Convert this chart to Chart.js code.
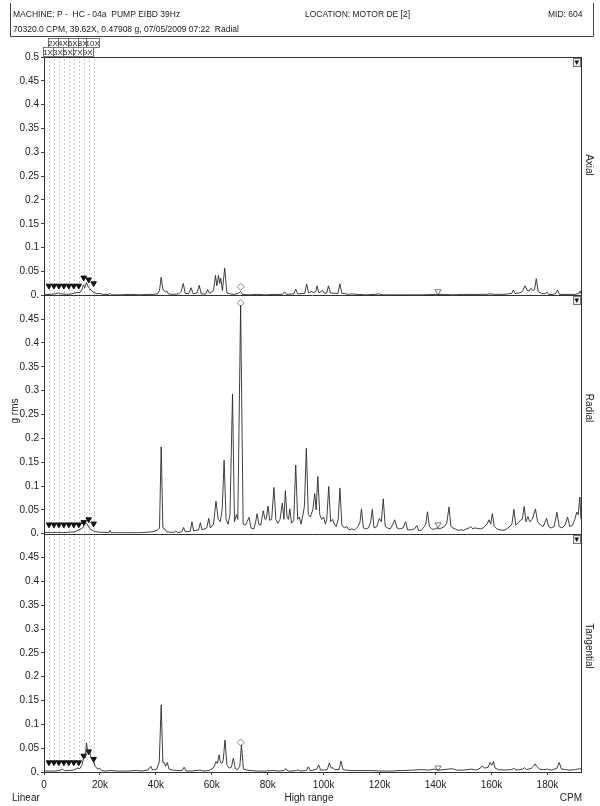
<!DOCTYPE html>
<html>
<head>
<meta charset="utf-8">
<script src="https://cdn.jsdelivr.net/npm/chart.js@4.4.1/dist/chart.umd.min.js"></script>
<style>
  html, body { margin: 0; padding: 0; background: #fff; }
  #wrap { position: relative; width: 600px; height: 806px; }
</style>
</head>
<body>
<div id="wrap"><canvas id="spectrum" width="600" height="806"></canvas></div>
<script>
// --- dados (x em kCPM, y em g rms) ---
const oneX = 1774.9; // 1X em CPM (70320 CPM = 39.62X)
const harmonics = [1, 2, 3, 4, 5, 6, 7, 8, 9, 10];
const harmLabels = ['1X', '2X', '3X', '4X', '5X', '6X', '7X', '8X', '9X', '10X'];
const xTicks = [0, 20000, 40000, 60000, 80000, 100000, 120000, 140000, 160000, 180000];
const xTickLabels = ['0', '20k', '40k', '60k', '80k', '100k', '120k', '140k', '160k', '180k'];
const yTicks = [0, 0.05, 0.1, 0.15, 0.2, 0.25, 0.3, 0.35, 0.4, 0.45, 0.5];
const panelNames = ['Axial', 'Radial', 'Tangential'];

const axial = [
  [0,0.001],[2,0.002],[4,0.003],[5.1,0.005],[6,0.003],[8,0.002],[10,0.003],[11.7,0.006],[12.8,0.006],
  [13.6,0.012],[14.1,0.022],[14.6,0.016],[15.2,0.027],[15.8,0.018],[16.4,0.014],[17.2,0.008],[18.2,0.005],
  [19,0.003],[20,0.004],[21,0.002],[23,0.002],[23.6,0.004],[24.2,0.001],[27,0.001],[31,0.002],[34,0.001],
  [37,0.002],[39,0.002],[40.5,0.003],[41.3,0.01],[41.9,0.038],[42.5,0.012],[43,0.01],[43.4,0.007],[43.9,0.009],
  [44.5,0.003],[46,0.002],[48.2,0.003],[49,0.008],[49.8,0.025],[50.5,0.004],[51.8,0.004],[52.6,0.016],[53.3,0.003],
  [54.7,0.005],[55.5,0.021],[56.2,0.003],[57.8,0.003],[58.5,0.012],[59.2,0.004],[60.6,0.01],[61.3,0.042],
  [61.8,0.02],[62.4,0.042],[62.8,0.025],[63.2,0.036],[63.8,0.01],[64.6,0.057],[65.4,0.005],[66.5,0.003],
  [68,0.002],[69.5,0.004],[70.3,0.008],[71,0.002],[73,0.001],[76,0.002],[79,0.001],[82,0.002],[85.2,0.002],
  [86,0.007],[86.7,0.002],[89.3,0.003],[90,0.013],[90.7,0.003],[93.2,0.004],[93.9,0.024],[94.6,0.005],
  [95.7,0.008],[96.4,0.006],[97.2,0.008],[97.6,0.02],[98.3,0.005],[99,0.008],[99.6,0.01],[100.3,0.004],
  [101.1,0.005],[101.7,0.02],[102.4,0.005],[105.1,0.004],[105.8,0.024],[106.5,0.004],[107.5,0.004],
  [108.5,0.002],[110,0.003],[112,0.002],[115,0.001],[118,0.002],[120,0.003],[121,0.001],[125,0.001],
  [130,0.001],[135,0.001],[140,0.002],[143,0.002],[146,0.001],[150,0.002],[154,0.002],[158,0.002],
  [159.6,0.003],[161,0.002],[164,0.002],[166,0.003],[167.2,0.004],[167.8,0.011],[168.4,0.004],[170,0.005],
  [171,0.008],[172,0.02],[172.8,0.01],[173.5,0.009],[174.1,0.015],[174.8,0.01],[175.4,0.012],[176,0.035],
  [176.7,0.008],[177.8,0.004],[179.2,0.003],[179.8,0.007],[180.4,0.002],[182,0.002],[183,0.004],[183.6,0.011],
  [184.3,0.002],[187,0.002],[190,0.002],[191.2,0.004],[191.7,0.009],[192,0.003]
];

const radial = [
  [0,0.002],[1.8,0.003],[3,0.002],[5,0.003],[7,0.002],[9,0.003],[11,0.004],[12.5,0.008],[13.8,0.012],
  [14.6,0.02],[15.2,0.022],[15.8,0.016],[16.5,0.01],[17.5,0.006],[18.5,0.004],[20,0.003],[21.5,0.003],
  [23.2,0.002],[23.6,0.007],[24,0.002],[26,0.002],[30,0.002],[34,0.002],[37,0.003],[39,0.004],[40.5,0.007],
  [41.3,0.012],[41.9,0.182],[42.5,0.012],[43.2,0.01],[43.8,0.004],[45,0.003],[46.6,0.003],[47.2,0.006],
  [47.8,0.002],[49.3,0.004],[49.9,0.013],[50.5,0.004],[52.3,0.005],[52.9,0.025],[53.5,0.006],[55.3,0.008],
  [55.9,0.023],[56.5,0.008],[58.2,0.012],[58.9,0.032],[59.5,0.012],[60.6,0.02],[61.5,0.068],[62.3,0.03],
  [63,0.025],[63.7,0.05],[64.4,0.154],[65.1,0.03],[65.8,0.02],[66.5,0.04],[67.4,0.293],[68.1,0.025],
  [68.8,0.04],[69.3,0.03],[70.3,0.479],[71.2,0.02],[72,0.018],[72.6,0.025],[73.3,0.034],[74,0.012],
  [75,0.01],[75.6,0.022],[76.2,0.042],[76.8,0.02],[77.5,0.018],[78.4,0.048],[79,0.03],[79.5,0.032],
  [80.1,0.058],[80.7,0.028],[81.4,0.03],[82.2,0.097],[82.9,0.03],[83.6,0.022],[84.4,0.03],[85.2,0.064],
  [85.8,0.03],[86.3,0.09],[86.9,0.035],[87.4,0.03],[87.9,0.052],[88.5,0.022],[89.3,0.028],[90,0.144],
  [90.7,0.03],[91.3,0.035],[91.9,0.02],[92.6,0.04],[93.1,0.057],[93.8,0.179],[94.5,0.04],[95.2,0.035],
  [96.1,0.05],[96.8,0.084],[97.3,0.05],[97.9,0.12],[98.6,0.04],[99.3,0.03],[100,0.035],[100.6,0.02],
  [101.1,0.03],[101.8,0.099],[102.5,0.025],[103.2,0.03],[103.8,0.02],[104.5,0.015],[105.2,0.03],[105.8,0.096],
  [106.5,0.018],[107.4,0.012],[108.3,0.015],[109,0.008],[110,0.01],[111,0.008],[112.3,0.015],[113,0.025],
  [113.5,0.052],[114.2,0.012],[115,0.01],[116,0.012],[116.8,0.025],[117.4,0.051],[118,0.012],[119,0.015],
  [119.9,0.032],[120.6,0.025],[121.3,0.073],[122,0.015],[122.8,0.012],[123.8,0.01],[124.6,0.018],[125.4,0.029],
  [126.2,0.012],[127.2,0.01],[128.4,0.012],[129.3,0.025],[130,0.008],[131.2,0.008],[132.5,0.01],[133.3,0.017],
  [134,0.006],[135,0.008],[136,0.015],[136.5,0.02],[137.1,0.046],[137.8,0.015],[138.6,0.01],[139.5,0.009],
  [140.5,0.012],[141.2,0.01],[142.2,0.012],[143.2,0.015],[144,0.022],[144.8,0.056],[145.5,0.015],[146.2,0.012],
  [147,0.01],[148,0.007],[149,0.008],[150,0.007],[151,0.01],[152,0.012],[152.6,0.015],[153.3,0.01],
  [154,0.012],[155,0.011],[156,0.01],[157,0.012],[158.4,0.02],[159.1,0.029],[159.7,0.02],[160.3,0.042],
  [161,0.015],[162,0.01],[163,0.008],[164.5,0.007],[165.5,0.01],[166.5,0.015],[167.3,0.02],[168,0.051],
  [168.7,0.018],[169.5,0.022],[170.3,0.028],[171,0.03],[171.7,0.057],[172.3,0.025],[173,0.036],[173.7,0.025],
  [174.6,0.03],[175.7,0.052],[176.5,0.025],[177.5,0.018],[178.5,0.015],[179.7,0.032],[180.4,0.015],
  [181.3,0.012],[182.4,0.015],[183.4,0.045],[184.2,0.015],[185.2,0.012],[186.3,0.018],[187.2,0.035],
  [188,0.015],[189,0.018],[189.8,0.03],[190.5,0.045],[191,0.04],[191.6,0.077],[192,0.03]
];

const tangential = [
  [0,0.002],[2,0.002],[4,0.002],[5.5,0.003],[6.6,0.006],[7.3,0.003],[9,0.003],[10.5,0.004],[12,0.008],
  [12.8,0.007],[13.6,0.015],[14.4,0.036],[14.8,0.03],[15.2,0.061],[15.7,0.04],[16.2,0.046],[16.8,0.03],
  [17.6,0.025],[18.3,0.012],[19.2,0.006],[19.9,0.008],[20.6,0.003],[22,0.002],[24,0.003],[26,0.002],
  [30,0.002],[33,0.003],[35,0.002],[37.2,0.004],[38.2,0.012],[38.8,0.004],[40.3,0.006],[41.2,0.02],
  [41.9,0.141],[42.5,0.02],[43,0.02],[43.5,0.012],[44.1,0.02],[44.7,0.006],[46,0.004],[48,0.003],
  [49.4,0.003],[50.1,0.01],[50.8,0.002],[53,0.002],[55.8,0.004],[57,0.002],[59,0.003],[60.8,0.01],
  [61.5,0.022],[62,0.018],[62.6,0.036],[63.1,0.02],[63.6,0.018],[64.1,0.025],[64.7,0.067],[65.4,0.015],
  [66.2,0.008],[67,0.01],[67.7,0.029],[68.4,0.007],[69.2,0.005],[70,0.012],[70.6,0.057],[71.3,0.006],
  [72.5,0.004],[74,0.003],[76,0.002],[79,0.002],[82,0.003],[84,0.002],[85.8,0.003],[86.5,0.007],
  [87.2,0.002],[89,0.002],[90.2,0.003],[90.8,0.005],[91.5,0.002],[93.8,0.003],[94.5,0.011],[95.2,0.003],
  [96.5,0.004],[97.5,0.006],[98.2,0.015],[98.9,0.004],[100,0.004],[101.3,0.005],[102,0.019],[102.7,0.008],
  [103.3,0.009],[104,0.005],[105.5,0.005],[106.2,0.023],[106.9,0.005],[108,0.004],[110,0.003],[113,0.003],
  [117,0.003],[120,0.002],[124,0.002],[128,0.003],[132,0.004],[135,0.005],[137.5,0.004],[139.5,0.006],
  [141,0.004],[143,0.005],[146,0.007],[147.5,0.004],[150,0.004],[152.9,0.006],[154.5,0.004],[156,0.008],
  [156.7,0.013],[157.5,0.008],[158.8,0.01],[159.5,0.02],[160.1,0.014],[160.7,0.022],[161.3,0.008],
  [162.5,0.005],[164.5,0.004],[166.5,0.005],[167.3,0.005],[168,0.008],[168.7,0.004],[170,0.005],
  [171.2,0.006],[171.8,0.009],[172.6,0.005],[174.3,0.008],[175,0.012],[175.6,0.017],[176.3,0.011],
  [177.2,0.006],[178.5,0.005],[180,0.006],[181.5,0.004],[183.4,0.008],[184.2,0.02],[185,0.006],
  [186.5,0.005],[188,0.004],[190,0.005],[191.5,0.007],[192,0.006]
];

// marcadores de harmônicas (1X..10X), em g rms
const axialMarks = [0.02, 0.02, 0.02, 0.02, 0.02, 0.02, 0.02, 0.037, 0.033, 0.025];
const radialMarks = [0.019, 0.019, 0.019, 0.019, 0.019, 0.019, 0.019, 0.024, 0.03, 0.021];
const tangMarks = [0.02, 0.02, 0.02, 0.02, 0.02, 0.02, 0.02, 0.034, 0.043, 0.027];

// cursor de pico (70320 CPM) e marcador de referência (~140.9k CPM)
const peakCpm = 70320;
const peakMarks = [0.018, 0.484, 0.062];
const refCpm = 140900;
const refMarks = [0.008, 0.019, 0.009];

const FONT = 'Liberation Sans, Arial, Helvetica, sans-serif';
const INK = '#222';

const toPoints = (arr) => arr.map(p => ({ x: p[0] * 1000, y: p[1] }));
const harmPoints = (marks) => harmonics.map((n, i) => ({ x: n * oneX, y: marks[i] }));
const axisIds = ['yA', 'yR', 'yT'];
const traces = [axial, radial, tangential];
const marksByPanel = [axialMarks, radialMarks, tangMarks];

const fmtG = (v) => v === 0 ? '0.' : String(Math.round(v * 100) / 100);

// --- datasets ---
const datasets = [];
axisIds.forEach((id, k) => {
  datasets.push({
    data: toPoints(traces[k]), yAxisID: id,
    borderColor: '#2a2a2a', borderWidth: 0.9, pointRadius: 0, tension: 0
  });
  datasets.push({
    data: harmPoints(marksByPanel[k]), yAxisID: id, showLine: false,
    pointStyle: 'triangle', rotation: 180, pointRadius: 3.2,
    backgroundColor: '#111', borderColor: '#111', borderWidth: 1
  });
  datasets.push({
    data: [{ x: peakCpm, y: peakMarks[k] }], yAxisID: id, showLine: false,
    pointStyle: 'rectRot', pointRadius: 3.5,
    backgroundColor: '#fff', borderColor: '#888', borderWidth: 1
  });
  datasets.push({
    data: [{ x: refCpm, y: refMarks[k] }], yAxisID: id, showLine: false,
    pointStyle: 'triangle', rotation: 180, pointRadius: 3.5,
    backgroundColor: '#fff', borderColor: '#777', borderWidth: 1
  });
});

// --- eixos y empilhados ---
const makeY = (hideTop) => ({
  type: 'linear', position: 'left', stack: 'panels', stackWeight: 1,
  min: 0, max: 0.5,
  afterBuildTicks: (s) => { s.ticks = yTicks.map(v => ({ value: v })); },
  afterFit: (s) => { s.width = 44; },
  grid: { display: true, drawOnChartArea: false, drawTicks: true, tickLength: 3, color: '#444' },
  border: { display: true, color: '#333' },
  ticks: {
    autoSkip: false, padding: 2, color: INK, font: { family: FONT, size: 10 },
    callback: (v) => (hideTop && v >= 0.5) ? '' : fmtG(v)
  }
});

// --- plugin: moldura, cabeçalho, harmônicas e textos ---
const decor = {
  id: 'decor',
  beforeDatasetsDraw(chart) {
    const ctx = chart.ctx;
    const xs = chart.scales.x;
    const yT = chart.scales.yT;
    ctx.save();
    ctx.strokeStyle = '#aaa';
    ctx.lineWidth = 0.6;
    ctx.setLineDash([2, 2]);
    harmonics.forEach((n, i) => {
      const x = Math.round(xs.getPixelForValue(n * oneX)) + 0.5;
      const top = n % 2 === 0 ? 47 : 57;
      ctx.beginPath();
      ctx.moveTo(x, top);
      ctx.lineTo(x, yT.getPixelForValue(tangMarks[i]));
      ctx.stroke();
    });
    ctx.restore();
  },
  afterDraw(chart) {
    const ctx = chart.ctx;
    const a = chart.chartArea;
    const xs = chart.scales.x;
    ctx.save();

    // moldura e linhas de zero
    ctx.strokeStyle = '#333';
    ctx.lineWidth = 1;
    ctx.strokeRect(a.left + 0.5, a.top + 0.5, a.right - a.left, a.bottom - a.top);
    axisIds.forEach(id => {
      const y = Math.round(chart.scales[id].getPixelForValue(0)) + 0.5;
      ctx.beginPath(); ctx.moveTo(a.left, y); ctx.lineTo(a.right, y); ctx.stroke();
    });

    // caixinhas com ▼ no canto de cada painel
    axisIds.forEach(id => {
      const y = Math.round(chart.scales[id].top) + 1;
      const x = a.right - 8;
      ctx.fillStyle = '#eee';
      ctx.strokeStyle = '#777';
      ctx.fillRect(x, y, 7, 8);
      ctx.strokeRect(x + 0.5, y + 0.5, 7, 8);
      ctx.fillStyle = '#111';
      ctx.beginPath();
      ctx.moveTo(x + 1.5, y + 2.5); ctx.lineTo(x + 6, y + 2.5); ctx.lineTo(x + 3.75, y + 7);
      ctx.closePath(); ctx.fill();
    });

    // rótulos das harmônicas no topo
    ctx.font = `8px ${FONT}`;
    ctx.textAlign = 'center';
    ctx.textBaseline = 'middle';
    harmonics.forEach((n, i) => {
      const x = xs.getPixelForValue(n * oneX) - 1;
      const even = n % 2 === 0;
      const top = even ? 38 : 47;
      const w = n === 10 ? 13 : 10;
      ctx.fillStyle = '#fff';
      ctx.fillRect(x - w / 2, top, w, 10);
      ctx.strokeStyle = '#555';
      ctx.lineWidth = 0.8;
      ctx.strokeRect(Math.round(x - w / 2) + 0.5, top + 0.5, w, 9);
      ctx.fillStyle = INK;
      ctx.fillText(harmLabels[i], x, top + 5.5);
    });

    // cabeçalho
    ctx.strokeStyle = '#444';
    ctx.lineWidth = 1;
    ctx.beginPath();
    ctx.moveTo(10.5, 3); ctx.lineTo(10.5, 36.5); ctx.lineTo(593.5, 36.5); ctx.lineTo(593.5, 3);
    ctx.stroke();
    ctx.fillStyle = INK;
    ctx.font = `8.5px ${FONT}`;
    ctx.textAlign = 'left';
    ctx.textBaseline = 'alphabetic';
    ctx.fillText('MACHINE: P -  HC - 04a  PUMP EIBD 39Hz', 13, 17);
    ctx.fillText('LOCATION: MOTOR DE [2]', 305, 17);
    ctx.fillText('MID: 604', 548, 17);
    ctx.fillText('70320.0 CPM, 39.62X, 0.47908 g, 07/05/2009 07:22  Radial', 13, 32);

    // textos do eixo x
    ctx.font = `10px ${FONT}`;
    ctx.textBaseline = 'middle';
    ctx.textAlign = 'left';
    ctx.fillText('Linear', 12, 798);
    ctx.textAlign = 'center';
    ctx.fillText('High range', 309, 798);
    ctx.textAlign = 'right';
    ctx.fillText('CPM', 582, 798);

    // título do eixo y
    ctx.save();
    ctx.translate(15, 411);
    ctx.rotate(-Math.PI / 2);
    ctx.textAlign = 'center';
    ctx.fillText('g rms', 0, 0);
    ctx.restore();

    // nomes dos painéis à direita
    const labelY = [165, 408, 646];
    panelNames.forEach((name, k) => {
      ctx.save();
      ctx.translate(589, labelY[k]);
      ctx.rotate(Math.PI / 2);
      ctx.textAlign = 'center';
      ctx.fillText(name, 0, 0);
      ctx.restore();
    });

    ctx.restore();
  }
};

new Chart(document.getElementById('spectrum'), {
  type: 'line',
  data: { datasets },
  options: {
    responsive: false,
    animation: false,
    events: [],
    layout: { padding: { top: 57, right: 19, bottom: 0, left: 0 } },
    plugins: { legend: { display: false }, tooltip: { enabled: false } },
    scales: {
      x: {
        type: 'linear', min: 0, max: 192000,
        afterBuildTicks: (s) => { s.ticks = xTicks.map(v => ({ value: v })); },
        afterFit: (s) => { s.height = 34; },
        grid: { display: true, drawOnChartArea: false, drawTicks: true, tickLength: 3, color: '#444' },
        border: { display: true, color: '#333' },
        ticks: {
          autoSkip: false, maxRotation: 0, padding: 4, color: INK, font: { family: FONT, size: 10 },
          callback: (v, i) => xTickLabels[i]
        }
      },
      // no Chart.js o primeiro eixo empilhado fica embaixo: Tangential, Radial, Axial
      yT: makeY(true),
      yR: makeY(true),
      yA: makeY(false)
    }
  },
  plugins: [decor]
});
</script>
</body>
</html>
